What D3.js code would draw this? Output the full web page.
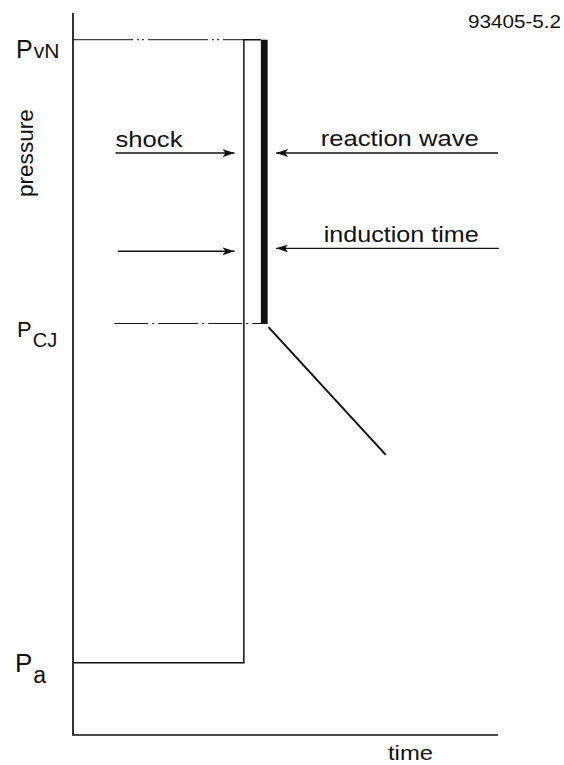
<!DOCTYPE html>
<html>
<head>
<meta charset="utf-8">
<script src="https://cdn.jsdelivr.net/npm/d3@7/dist/d3.min.js"></script>
<style>
  html, body { margin: 0; padding: 0; background: #fff; }
  svg { display: block; }
  text { font-family: "Liberation Sans", Arial, Helvetica, sans-serif; fill: #111; }
</style>
</head>
<body>
<svg id="chart" width="564" height="765"></svg>
<script>
// ZND detonation profile: pressure vs. time (schematic units 0..10)
const pressureLevels = ["a", "CJ", "vN"];          // subscripts of P labels
const pressureValues = [1.0, 5.7, 9.63];            // P_a, P_CJ, P_vN
const shockTime = 4.02;                             // leading shock
const reactionStart = 4.42;                         // start of reaction zone
const reactionEnd = 4.58;                           // end of reaction zone (CJ plane)
const expansionTimes = [4.6, 7.36];                 // Taylor expansion behind CJ
const expansionPressures = [5.65, 3.88];
const annotationLabels = ["shock", "reaction wave", "induction time"];
const annotationLevels = [8.06, 8.06, 6.74];        // arrow heights

const svg = d3.select("#chart");
const x = d3.scaleLinear().domain([0, 10]).range([73, 498]);
const y = d3.scaleLinear().domain([0, 10]).range([735, 13]);

const ink = "#111";
const [pa, pcj, pvn] = pressureValues;

// arrowhead marker
svg.append("defs").append("marker")
  .attr("id", "arrow").attr("viewBox", "0 0 12 8")
  .attr("refX", 12).attr("refY", 4)
  .attr("markerWidth", 12).attr("markerHeight", 8)
  .attr("markerUnits", "userSpaceOnUse")
  .attr("orient", "auto")
  .append("path").attr("d", "M0,0 L12,4 L0,8 L3,4 Z").attr("fill", ink);

// axes
const axisPath = d3.path();
axisPath.moveTo(x(0), y(10));
axisPath.lineTo(x(0), y(0));
axisPath.lineTo(x(10), y(0));
svg.append("path").attr("d", axisPath.toString())
  .attr("fill", "none").attr("stroke", ink).attr("stroke-width", 1.7);

// reference levels (dash-dot)
svg.append("line")
  .attr("x1", x(0)).attr("x2", x(shockTime))
  .attr("y1", y(pvn)).attr("y2", y(pvn))
  .attr("stroke", ink).attr("stroke-width", 1)
  .attr("stroke-dasharray", "60,4,2,3,2,4");
svg.append("line")
  .attr("x1", x(0.97)).attr("x2", x(reactionEnd))
  .attr("y1", y(pcj)).attr("y2", y(pcj))
  .attr("stroke", ink).attr("stroke-width", 1)
  .attr("stroke-dasharray", "34,4,2,4,40,4,2,4");

// pressure profile: ambient -> shock jump -> vN spike
const line = d3.line().x(d => x(d[0])).y(d => y(d[1]));
svg.append("path")
  .attr("d", line([[0, pa], [shockTime, pa], [shockTime, pvn], [reactionStart, pvn]]))
  .attr("fill", "none").attr("stroke", ink).attr("stroke-width", 1.5);

// reaction zone (thick band from vN down to CJ)
svg.append("rect")
  .attr("x", x(reactionStart)).attr("y", y(pvn))
  .attr("width", x(reactionEnd) - x(reactionStart))
  .attr("height", y(pcj) - y(pvn))
  .attr("fill", ink);

// expansion behind CJ point
svg.append("path")
  .attr("d", line(expansionTimes.map((t, i) => [t, expansionPressures[i]])))
  .attr("fill", "none").attr("stroke", ink).attr("stroke-width", 2);

// arrows
const arrows = [
  { from: 1.0, to: shockTime - 0.22, lvl: annotationLevels[0] },
  { from: 10.0, to: reactionEnd + 0.2, lvl: annotationLevels[1] },
  { from: 1.06, to: shockTime - 0.22, lvl: 6.7 },
  { from: 10.02, to: reactionEnd + 0.2, lvl: annotationLevels[2] }
];
svg.selectAll("line.arrow").data(arrows).join("line")
  .attr("class", "arrow")
  .attr("x1", d => x(d.from)).attr("x2", d => x(d.to))
  .attr("y1", d => y(d.lvl)).attr("y2", d => y(d.lvl))
  .attr("stroke", ink).attr("stroke-width", 1.4)
  .attr("marker-end", "url(#arrow)");

// annotation labels (wide sans set with textLength)
const labelStyle = [
  { t: 1.0, dy: -6.5, len: 67 },
  { t: 5.83, dy: -7.5, len: 158 },
  { t: 5.9, dy: -6.5, len: 155 }
];
svg.selectAll("text.ann").data(annotationLabels).join("text")
  .attr("class", "ann")
  .attr("x", (d, i) => x(labelStyle[i].t))
  .attr("y", (d, i) => y(annotationLevels[i]) + labelStyle[i].dy)
  .attr("font-size", 22)
  .attr("textLength", (d, i) => labelStyle[i].len)
  .attr("lengthAdjust", "spacingAndGlyphs")
  .text(d => d);

// pressure level labels (P with subscript)
const pStyle = [
  { x: 15, dy: 9,  pSize: 26, sSize: 23, sShift: 11 },
  { x: 17, dy: 14, pSize: 22, sSize: 20, sShift: 10 },
  { x: 16, dy: 18, pSize: 25, sSize: 21, sShift: 0 }
];
const pLabels = svg.selectAll("text.plab").data(pressureLevels).join("text")
  .attr("class", "plab")
  .attr("x", (d, i) => pStyle[i].x)
  .attr("y", (d, i) => y(pressureValues[i]) + pStyle[i].dy);
pLabels.append("tspan").attr("font-size", (d, i) => pStyle[i].pSize).text("P");
pLabels.append("tspan")
  .attr("font-size", (d, i) => pStyle[i].sSize)
  .attr("dx", 1)
  .attr("dy", (d, i) => pStyle[i].sShift)
  .text(d => d);

// axis titles
svg.append("text")
  .attr("transform", `translate(33, ${y(8.06)}) rotate(-90)`)
  .attr("text-anchor", "middle")
  .attr("font-size", 22)
  .attr("textLength", 88)
  .attr("lengthAdjust", "spacingAndGlyphs")
  .text("pressure");
svg.append("text")
  .attr("x", 388).attr("y", 760)
  .attr("font-size", 21)
  .attr("textLength", 45)
  .attr("lengthAdjust", "spacingAndGlyphs")
  .text("time");

// figure id
svg.append("text")
  .attr("x", 468).attr("y", 28)
  .attr("font-size", 18)
  .attr("textLength", 93)
  .attr("lengthAdjust", "spacingAndGlyphs")
  .text("93405-5.2");
</script>
</body>
</html>
